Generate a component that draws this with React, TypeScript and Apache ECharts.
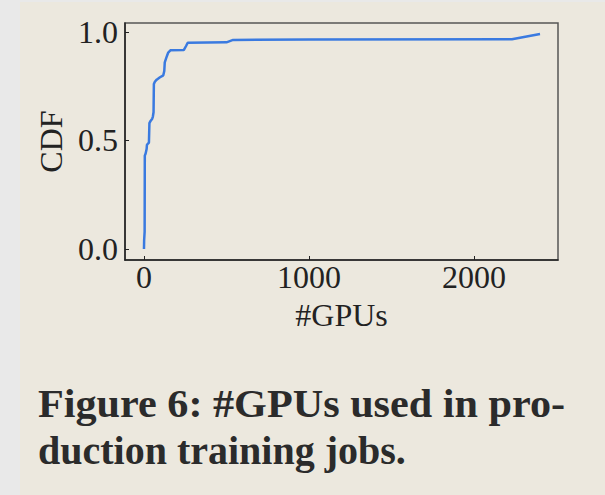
import React, { useEffect, useRef } from "react";
import * as echarts from "echarts";

const gpuCounts = [0, 1, 4, 5, 10, 16, 18, 30, 33, 40, 50, 54, 58, 60, 66, 77, 95, 117, 123, 126, 135, 147, 160, 242, 255, 265, 500, 540, 1000, 2230, 2400];
const cdfValues = [0, 0.04, 0.08, 0.43, 0.44, 0.46, 0.48, 0.49, 0.58, 0.59, 0.6, 0.61, 0.63, 0.76, 0.77, 0.78, 0.79, 0.8, 0.82, 0.86, 0.88, 0.905, 0.915, 0.917, 0.935, 0.95, 0.952, 0.963, 0.965, 0.966, 0.99];
const xTicks = [0, 1000, 2000];
const yTicks = [0, 0.5, 1];
const captionLines = ["Figure 6: #GPUs used in pro-", "duction training jobs."];

const SERIF = "'Liberation Serif', 'Times New Roman', serif";

export default function App() {
  const ref = useRef<HTMLDivElement>(null);
  useEffect(() => {
    if (!ref.current) return;
    const chart = echarts.init(ref.current, null, { renderer: "svg" });
    const data = gpuCounts.map((g, i) => [g, cdfValues[i]]);
    chart.setOption({
      animation: false,
      backgroundColor: "#e9e9e9",
      graphic: [
        { type: "rect", z: -10, shape: { x: 20, y: 2, width: 600, height: 500 }, style: { fill: "#ece8de" } },
        {
          type: "text",
          x: 38,
          y: 383,
          scaleX: 1.055,
          style: { text: captionLines[0], font: `bold 40px ${SERIF}`, fill: "#2b2b2b" },
        },
        {
          type: "text",
          x: 38,
          y: 430,
          style: { text: captionLines[1], font: `bold 40px ${SERIF}`, fill: "#2b2b2b" },
        },
      ],
      grid: {
        left: 125,
        top: 23,
        width: 433,
        height: 237,
        show: true,
        borderColor: "#555",
        borderWidth: 1.5,
        backgroundColor: "transparent",
      },
      xAxis: {
        type: "value",
        min: -115,
        max: 2509,
        name: "#GPUs",
        nameLocation: "middle",
        nameGap: 39,
        nameTextStyle: { fontFamily: SERIF, fontSize: 32, color: "#222" },
        axisLine: { show: true, onZero: false, lineStyle: { color: "#222", width: 1.5 } },
        axisTick: { show: true, inside: true, length: 4, customValues: xTicks, lineStyle: { color: "#222" } },
        axisLabel: {
          customValues: xTicks,
          fontFamily: SERIF,
          fontSize: 32,
          color: "#222",
          margin: 1,
          formatter: (v: number) => String(v),
        },
        splitLine: { show: false },
      },
      yAxis: {
        type: "value",
        min: -0.051,
        max: 1.041,
        name: "CDF",
        nameLocation: "middle",
        nameGap: 58,
        nameTextStyle: { fontFamily: SERIF, fontSize: 32, color: "#222" },
        axisLine: { show: true, onZero: false, lineStyle: { color: "#222", width: 1.5 } },
        axisTick: { show: true, inside: true, length: 4, customValues: yTicks, lineStyle: { color: "#222" } },
        axisLabel: {
          customValues: yTicks,
          fontFamily: SERIF,
          fontSize: 32,
          color: "#222",
          margin: 7,
          formatter: (v: number) => v.toFixed(1),
        },
        splitLine: { show: false },
      },
      series: [
        {
          type: "line",
          data,
          showSymbol: false,
          lineStyle: { color: "#3a7ae0", width: 2.5 },
        },
      ],
    });
    return () => chart.dispose();
  }, []);
  return <div ref={ref} style={{ position: "absolute", left: 0, top: 0, width: 605, height: 495 }} />;
}
